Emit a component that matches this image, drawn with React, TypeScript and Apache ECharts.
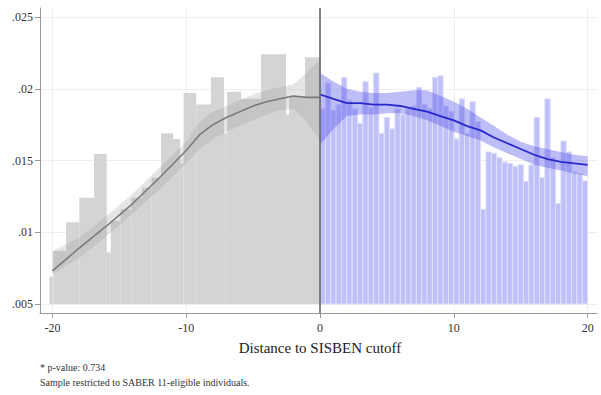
import React, { useEffect, useRef } from 'react';
import * as echarts from 'echarts';

const xTickValues = [-20, -10, 0, 10, 20];
const xTickLabels = ['-20', '-10', '0', '10', '20'];
const yTickValues = [0.005, 0.01, 0.015, 0.02, 0.025];
const yTickLabels = ['.005', '.01', '.015', '.02', '.025'];

const histBase = 0.005;

// Below the cutoff: histogram bin edges and densities
const leftBinEdges = [-20.23, -19.93, -18.98, -17.99, -16.89, -15.94, -15.64, -14.9, -14.1, -13.3, -12.6, -11.88, -10.99, -10.46, -10.2, -9.25, -8.15, -7.17, -6.95, -5.9, -4.41, -2.54, -2.32, -1.12, 0];
const leftDensity = [0.0069, 0.0087, 0.0107, 0.0124, 0.01545, 0.0086, 0.0108, 0.0116, 0.0124, 0.0131, 0.0138, 0.0169, 0.0165, 0.0148, 0.0197, 0.0189, 0.0208, 0.0169, 0.0198, 0.0193, 0.0224, 0.0182, 0.0195, 0.0222];

// Above the cutoff: bins of width 0.4 from 0 to 20
const rightBinStart = 0;
const rightBinWidth = 0.4;
const rightDensity = [
  0.0186, 0.0204, 0.0185, 0.0189, 0.0208, 0.0192, 0.0186, 0.0176, 0.0205, 0.0187,
  0.0211, 0.0169, 0.0180, 0.0172, 0.0186, 0.0182, 0.0186, 0.0188, 0.0201, 0.0189,
  0.0186, 0.0208, 0.0209, 0.0188, 0.0184, 0.0165, 0.0193, 0.0169, 0.0191, 0.0177,
  0.0116, 0.0156, 0.0155, 0.0152, 0.0149, 0.0148, 0.0146, 0.0147, 0.01355, 0.0147,
  0.0180, 0.0138, 0.0193, 0.0152, 0.0120, 0.01636, 0.0156, 0.0142, 0.0141, 0.01358,
];

// Local polynomial fits and confidence bands
const leftFitX = [-20, -18, -16, -14, -12, -10, -9, -8, -7, -6, -5, -4, -3, -2, -1, 0];
const leftFit = [0.0073, 0.0089, 0.0104, 0.0120, 0.0138, 0.0157, 0.0168, 0.0175, 0.0180, 0.0184, 0.0188, 0.0191, 0.0193, 0.0195, 0.0194, 0.0194];
const leftLower = [0.0071, 0.0082, 0.0097, 0.0113, 0.0130, 0.0148, 0.0158, 0.0165, 0.0170, 0.0174, 0.0178, 0.0182, 0.0185, 0.0186, 0.0177, 0.0164];
const leftUpper = [0.0087, 0.0096, 0.0111, 0.0127, 0.0145, 0.0163, 0.0177, 0.0184, 0.0188, 0.0192, 0.0196, 0.0199, 0.0201, 0.0203, 0.0211, 0.0220];

const rightFitX = [0, 1, 2, 3, 4, 5, 6, 7, 8, 9, 10, 11, 12, 13, 14, 15, 16, 17, 18, 19, 20];
const rightFit = [0.0196, 0.0193, 0.0190, 0.0190, 0.0189, 0.0189, 0.0188, 0.0186, 0.0184, 0.0181, 0.0178, 0.0174, 0.0171, 0.0166, 0.0162, 0.0158, 0.0154, 0.0151, 0.0149, 0.0148, 0.0147];
const rightLower = [0.0161, 0.0172, 0.0181, 0.0182, 0.0182, 0.0183, 0.0183, 0.0181, 0.0178, 0.0174, 0.0170, 0.0167, 0.0164, 0.0159, 0.0155, 0.0151, 0.0147, 0.0145, 0.0143, 0.0141, 0.0139];
const rightUpper = [0.0211, 0.0205, 0.0200, 0.0198, 0.0197, 0.0197, 0.0198, 0.0199, 0.0199, 0.0195, 0.0191, 0.0186, 0.0180, 0.0174, 0.0168, 0.0163, 0.0160, 0.0158, 0.0156, 0.0154, 0.0153];

const xTitle = 'Distance to SISBEN cutoff';
const note1 = '* p-value: 0.734';
const note2 = 'Sample restricted to SABER 11-eligible individuals.';

const serif = 'Liberation Serif';

function histRender(fill: string, stroke: string | null) {
  return (params: any, api: any) => {
    const p0 = api.coord([api.value(0), histBase]);
    const p1 = api.coord([api.value(1), api.value(2)]);
    return {
      type: 'rect',
      shape: { x: p0[0], y: p1[1], width: p1[0] - p0[0], height: p0[1] - p1[1] },
      style: stroke ? { fill, stroke, lineWidth: 1 } : { fill },
    };
  };
}

function bandRender(xs: number[], lo: number[], hi: number[], fill: string) {
  return (params: any, api: any) => {
    if (params.dataIndex !== 0) return null;
    const pts: number[][] = [];
    for (let i = 0; i < xs.length; i++) pts.push(api.coord([xs[i], hi[i]]));
    for (let i = xs.length - 1; i >= 0; i--) pts.push(api.coord([xs[i], lo[i]]));
    return { type: 'polygon', shape: { points: pts }, style: { fill } };
  };
}

export default function App() {
  const ref = useRef<HTMLDivElement>(null);
  useEffect(() => {
    if (!ref.current) return;
    const chart = echarts.init(ref.current, null, { renderer: 'svg' });
    const leftData = leftDensity.map((v, i) => [leftBinEdges[i], leftBinEdges[i + 1], v]);
    const rightData = rightDensity.map((v, i) => [
      rightBinStart + i * rightBinWidth,
      rightBinStart + (i + 1) * rightBinWidth,
      v,
    ]);
    const option: any = {
      animation: false,
      backgroundColor: '#ffffff',
      textStyle: { fontFamily: serif },
      grid: { left: 40, right: 4, top: 8, bottom: 82 },
      xAxis: {
        type: 'value',
        min: -20.93,
        max: 20.7,
        axisLine: { show: true, onZero: false, lineStyle: { color: '#999999', width: 1 } },
        axisTick: { show: true, length: 5, customValues: xTickValues, lineStyle: { color: '#999999' } },
        axisLabel: {
          customValues: xTickValues,
          formatter: (v: number) => {
            const i = xTickValues.findIndex((t) => Math.abs(t - v) < 1e-9);
            return i >= 0 ? xTickLabels[i] : '';
          },
          fontFamily: serif,
          fontSize: 12,
          color: '#333333',
          margin: 9,
        },
        splitLine: { show: true, lineStyle: { color: '#eeeeee', width: 1 } },
      },
      yAxis: {
        type: 'value',
        min: 0.00437,
        max: 0.02563,
        axisLine: { show: true, onZero: false, lineStyle: { color: '#999999', width: 1 } },
        axisTick: { show: true, length: 5, customValues: yTickValues, lineStyle: { color: '#999999' } },
        axisLabel: {
          customValues: yTickValues,
          formatter: (v: number) => {
            const i = yTickValues.findIndex((t) => Math.abs(t - v) < 1e-9);
            return i >= 0 ? yTickLabels[i] : '';
          },
          fontFamily: serif,
          fontSize: 12,
          color: '#333333',
          margin: 7,
        },
        splitLine: { show: true, lineStyle: { color: '#eeeeee', width: 1 } },
      },
      series: [
        {
          type: 'custom',
          name: 'hist-left',
          data: leftData,
          encode: { x: [0, 1], y: 2 },
          renderItem: histRender('#d4d4d4', null),
          clip: true,
          silent: true,
        },
        {
          type: 'custom',
          name: 'hist-right',
          data: rightData,
          encode: { x: [0, 1], y: 2 },
          renderItem: histRender('#c0c0f9', '#dedefc'),
          clip: true,
          silent: true,
        },
        {
          type: 'custom',
          name: 'ci-left',
          data: [[leftFitX[0], leftFit[0]]],
          renderItem: bandRender(leftFitX, leftLower, leftUpper, 'rgba(150,150,150,0.25)'),
          clip: true,
          silent: true,
        },
        {
          type: 'custom',
          name: 'ci-right',
          data: [[rightFitX[0], rightFit[0]]],
          renderItem: bandRender(rightFitX, rightLower, rightUpper, 'rgba(90,90,235,0.4)'),
          clip: true,
          silent: true,
        },
        {
          type: 'line',
          name: 'fit-left',
          data: leftFitX.map((x, i) => [x, leftFit[i]]),
          symbol: 'none',
          lineStyle: { color: '#7a7a7a', width: 1.6 },
          silent: true,
          markLine: {
            silent: true,
            symbol: ['none', 'none'],
            label: { show: false },
            lineStyle: { color: '#666666', width: 1.6, type: 'solid' },
            data: [{ xAxis: 0 }],
          },
        },
        {
          type: 'line',
          name: 'fit-right',
          data: rightFitX.map((x, i) => [x, rightFit[i]]),
          symbol: 'none',
          lineStyle: { color: '#2828cc', width: 1.8 },
          silent: true,
        },
      ],
      graphic: [
        {
          type: 'text',
          x: 320,
          y: 348,
          style: { text: xTitle, fontFamily: serif, fontSize: 15, fill: '#222222', align: 'center', verticalAlign: 'middle' },
        },
        {
          type: 'text',
          x: 40,
          y: 367,
          style: { text: note1, fontFamily: serif, fontSize: 10, fill: '#333333', align: 'left', verticalAlign: 'middle' },
        },
        {
          type: 'text',
          x: 40,
          y: 382,
          style: { text: note2, fontFamily: serif, fontSize: 10, fill: '#333333', align: 'left', verticalAlign: 'middle' },
        },
      ],
    };
    chart.setOption(option);
    return () => chart.dispose();
  }, []);
  return <div ref={ref} style={{ position: 'fixed', left: 0, top: 0, width: 601, height: 395 }} />;
}
